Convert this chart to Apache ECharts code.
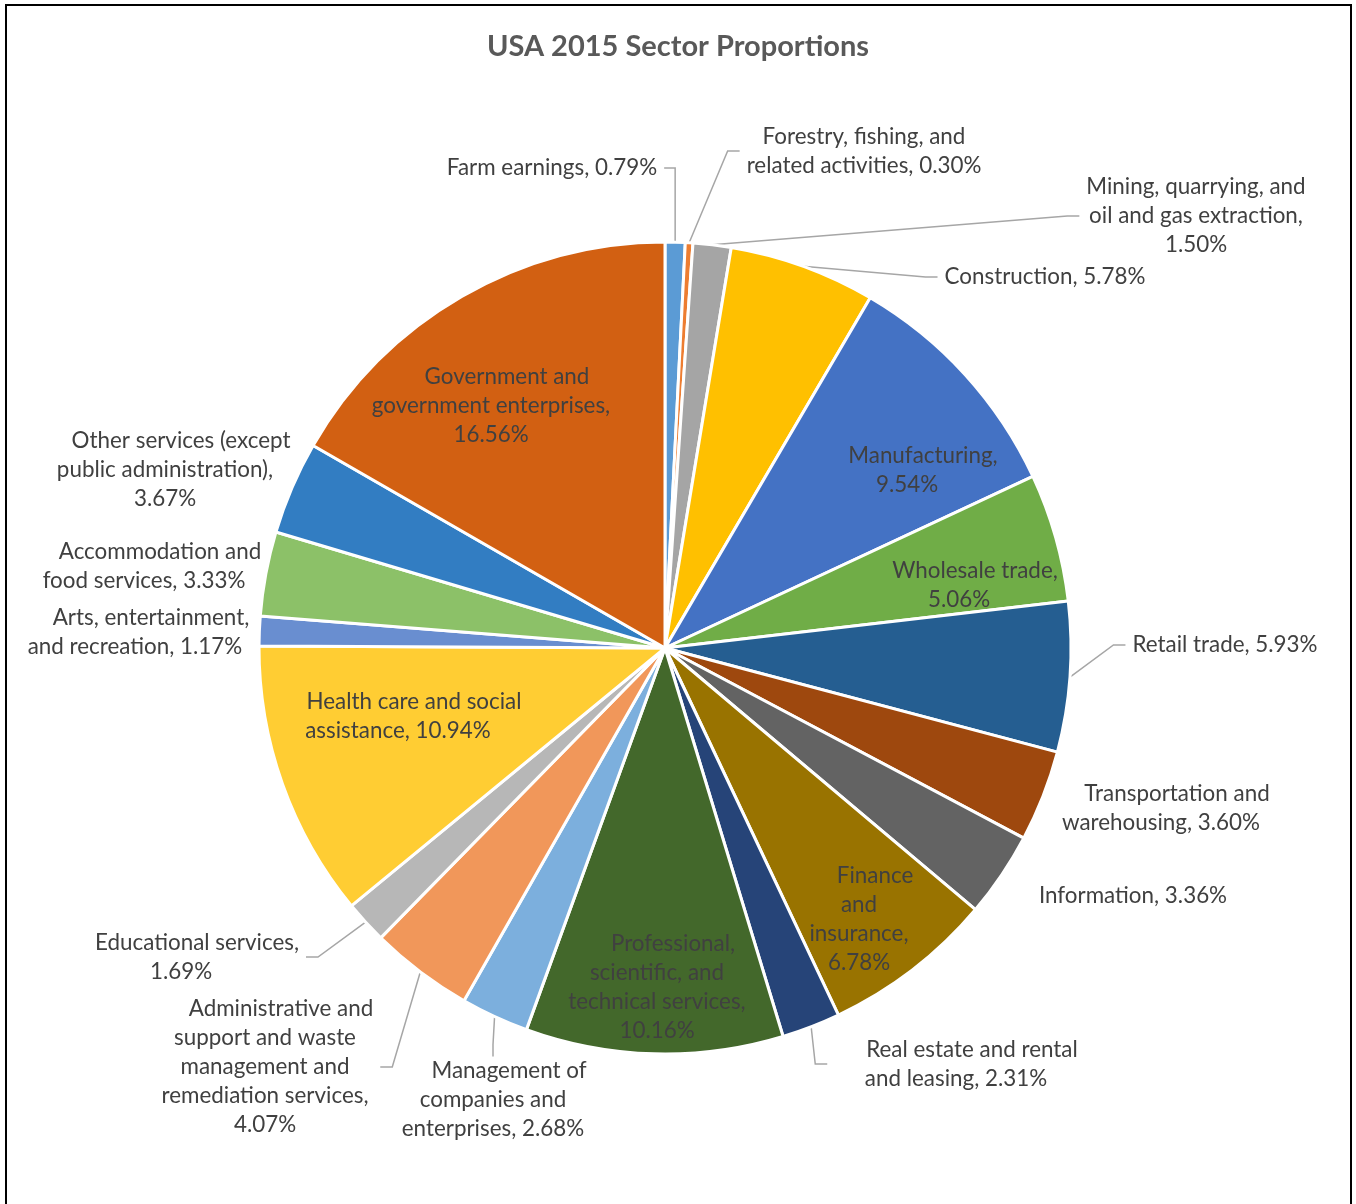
<!DOCTYPE html>
<html>
<head>
<meta charset="utf-8">
<title>USA 2015 Sector Proportions</title>
<script src="https://cdn.jsdelivr.net/npm/echarts@6/dist/echarts.min.js"></script>
<style>
  html, body { margin: 0; padding: 0; background: #ffffff; overflow: hidden; }
  body { width: 1356px; height: 1204px; position: relative; }
  #chart { position: absolute; left: 0; top: 0; width: 1356px; height: 1204px; }
  #frame { position: absolute; left: 5px; top: 4px; width: 1347px; height: 1300px;
           border: 2px solid #000; box-sizing: border-box; pointer-events: none; }
</style>
</head>
<body>
<div id="chart"></div>
<div id="frame"></div>
<script>
// Sector shares of 2015 earnings, clockwise from twelve o'clock (percent)
const sectors = [
  'Farm earnings',
  'Forestry, fishing, and related activities',
  'Mining, quarrying, and oil and gas extraction',
  'Construction',
  'Manufacturing',
  'Wholesale trade',
  'Retail trade',
  'Transportation and warehousing',
  'Information',
  'Finance and insurance',
  'Real estate and rental and leasing',
  'Professional, scientific, and technical services',
  'Management of companies and enterprises',
  'Administrative and support and waste management and remediation services',
  'Educational services',
  'Health care and social assistance',
  'Arts, entertainment, and recreation',
  'Accommodation and food services',
  'Other services (except public administration)',
  'Government and government enterprises'
];
const shares = [
  0.79, 0.30, 1.50, 5.78, 9.54, 5.06, 5.93, 3.60, 3.36, 6.78,
  2.31, 10.16, 2.68, 4.07, 1.69, 10.94, 1.17, 3.33, 3.67, 16.56
];
const sliceColors = [
  '#5B9BD5', '#ED7D31', '#A5A5A5', '#FFC000', '#4472C4',
  '#70AD47', '#255E91', '#9E480E', '#636363', '#997300',
  '#264478', '#43682B', '#7CAFDD', '#F1975A', '#B7B7B7',
  '#FFCD33', '#698ED0', '#8CC168', '#327DC2', '#D26012'
];

const FONT = 'Lato, "Open Sans", sans-serif';
const TEXT = '#404040';
const LABEL_SIZE = 22.4;

// Label placement: centre of each label block, words per wrapped row,
// whether the first row is indented, and whether a leader line is drawn.
const labelSpots = {
  'Farm earnings':                                   { x: 552,  y: 168,  wrap: [],           lead: false, line: true },
  'Forestry, fishing, and related activities':       { x: 864,  y: 151,  wrap: [3],          lead: false, line: true },
  'Mining, quarrying, and oil and gas extraction':   { x: 1196, y: 216,  wrap: [3, 4],       lead: false, line: true },
  'Construction':                                    { x: 1045, y: 277,  wrap: [],           lead: false, line: true },
  'Manufacturing':                                   { x: 907,  y: 470,  wrap: [1],          lead: true,  line: false },
  'Wholesale trade':                                 { x: 959,  y: 585,  wrap: [2],          lead: true,  line: false },
  'Retail trade':                                    { x: 1225, y: 645,  wrap: [],           lead: false, line: true },
  'Transportation and warehousing':                  { x: 1161, y: 808,  wrap: [2],          lead: true,  line: false },
  'Information':                                     { x: 1133, y: 896,  wrap: [],           lead: false, line: false },
  'Finance and insurance':                           { x: 859,  y: 919,  wrap: [1, 1, 1],    lead: true,  line: false },
  'Real estate and rental and leasing':              { x: 956,  y: 1064, wrap: [4],          lead: true,  line: true },
  'Professional, scientific, and technical services':{ x: 657,  y: 987,  wrap: [1, 2, 2],    lead: true,  line: false },
  'Management of companies and enterprises':         { x: 493,  y: 1100, wrap: [2, 2],       lead: true,  line: true },
  'Administrative and support and waste management and remediation services':
                                                     { x: 265,  y: 1067, wrap: [2, 3, 2, 2], lead: true,  line: true },
  'Educational services':                            { x: 181,  y: 957,  wrap: [2],          lead: true,  line: true },
  'Health care and social assistance':               { x: 398,  y: 716,  wrap: [4],          lead: true,  line: false },
  'Arts, entertainment, and recreation':             { x: 135,  y: 632,  wrap: [2],          lead: true,  line: false },
  'Accommodation and food services':                 { x: 144,  y: 566,  wrap: [2],          lead: true,  line: false },
  'Other services (except public administration)':   { x: 165,  y: 470,  wrap: [3, 2],       lead: true,  line: false },
  'Government and government enterprises':           { x: 491,  y: 406,  wrap: [2, 2],       lead: true,  line: false }
};

function labelText(i) {
  const spot = labelSpots[sectors[i]];
  const words = (sectors[i] + ', ' + shares[i].toFixed(2) + '%').split(' ');
  const rows = [];
  let k = 0;
  spot.wrap.forEach(function (n) {
    rows.push(words.slice(k, k + n).join(' '));
    k += n;
  });
  rows.push(words.slice(k).join(' '));
  if (spot.lead && rows.length > 1) {
    rows[0] = '{lead|' + rows[0] + '}';
  }
  return rows.join('\n');
}

const chart = echarts.init(document.getElementById('chart'), null, { renderer: 'canvas' });

chart.setOption({
  backgroundColor: '#ffffff',
  animation: false,
  title: {
    text: 'USA 2015 Sector Proportions',
    left: 'center',
    top: 25,
    textStyle: { fontFamily: FONT, fontSize: 29, fontWeight: 'bold', color: '#595959', lineHeight: 34 }
  },
  series: [{
    type: 'pie',
    center: [665, 648],
    radius: 406,
    startAngle: 90,
    clockwise: true,
    avoidLabelOverlap: false,
    emphasis: { scale: false },
    itemStyle: { borderColor: '#ffffff', borderWidth: 3 },
    label: {
      show: true,
      position: 'outside',
      formatter: function (p) { return labelText(p.dataIndex); },
      color: TEXT,
      fontFamily: FONT,
      fontSize: LABEL_SIZE,
      lineHeight: 29,
      padding: [0, 7],
      rich: {
        lead: { padding: [0, 0, 0, 32], color: TEXT, fontFamily: FONT, fontSize: LABEL_SIZE, lineHeight: 29 }
      }
    },
    labelLine: {
      show: true,
      length: 10,
      length2: 12,
      lineStyle: { color: '#A6A6A6', width: 1.5 }
    },
    labelLayout: function (p) {
      const spot = labelSpots[sectors[p.dataIndex]];
      return { x: spot.x, y: spot.y, align: 'center', verticalAlign: 'middle' };
    },
    data: sectors.map(function (name, i) {
      return {
        name: name,
        value: shares[i],
        itemStyle: { color: sliceColors[i] },
        labelLine: { show: labelSpots[name].line }
      };
    })
  }]
});
</script>
</body>
</html>
